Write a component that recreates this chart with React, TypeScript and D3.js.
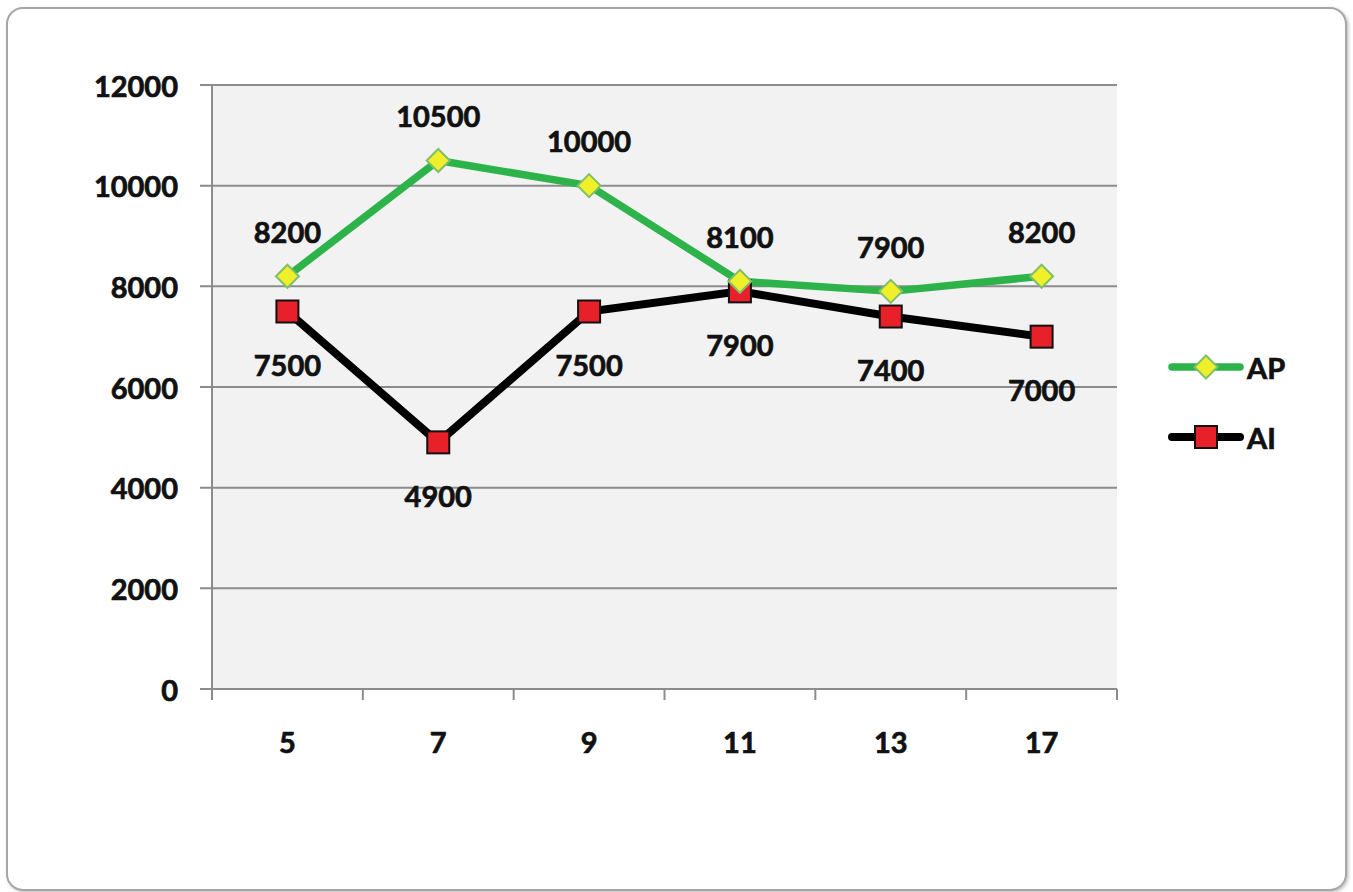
import React from "react";
import * as d3 from "d3";

const categories = ["5", "7", "9", "11", "13", "17"];
const apValues = [8200, 10500, 10000, 8100, 7900, 8200];
const aiValues = [7500, 4900, 7500, 7900, 7400, 7000];
const yTicks = [0, 2000, 4000, 6000, 8000, 10000, 12000];
const seriesNames = ["AP", "AI"];

const W = 1353;
const H = 892;
const plot = { left: 212, right: 1117, top: 85, bottom: 689 };
const FONT = "Lato, 'Open Sans', sans-serif";
const TXT = "#111111";

const textProps = {
  fontFamily: FONT,
  fontWeight: "bold" as const,
  fontSize: 29,
  fill: TXT,
  stroke: TXT,
  strokeWidth: 0.7,
  dominantBaseline: "central" as const,
};

export default function App() {
  const x = d3
    .scaleBand<string>()
    .domain(categories)
    .range([plot.left, plot.right])
    .paddingInner(0)
    .paddingOuter(0);
  const y = d3.scaleLinear().domain([0, 12000]).range([plot.bottom, plot.top]);
  const cx = (c: string) => (x(c) as number) + x.bandwidth() / 2;

  const line = d3
    .line<number>()
    .x((_, i) => cx(categories[i]))
    .y((d) => y(d));

  const diamond = (px: number, py: number, r: number) =>
    `M${px},${py - r}L${px + r},${py}L${px},${py + r}L${px - r},${py}Z`;

  const boundaries = categories.map((c) => x(c) as number).concat([plot.right]);

  return (
    <svg
      width={W}
      height={H}
      style={{ position: "absolute", left: 0, top: 0, display: "block" }}
    >
      <defs>
        <filter id="sh" x="-5%" y="-5%" width="110%" height="110%">
          <feDropShadow dx="1.5" dy="1.5" stdDeviation="1.5" floodColor="#000" floodOpacity="0.25" />
        </filter>
      </defs>
      <rect x={0} y={0} width={W} height={H} fill="#ffffff" />
      <rect
        x={7}
        y={8}
        width={1339}
        height={882}
        rx={16}
        ry={16}
        fill="#ffffff"
        stroke="#a6a6a6"
        strokeWidth={2}
        filter="url(#sh)"
      />
      <rect
        x={plot.left}
        y={plot.top}
        width={plot.right - plot.left}
        height={plot.bottom - plot.top}
        fill="#f2f2f2"
      />
      {yTicks.map((t) => (
        <g key={t}>
          <line
            x1={plot.left - 12}
            x2={plot.right}
            y1={y(t)}
            y2={y(t)}
            stroke="#8c8c8c"
            strokeWidth={2}
          />
          <text x={178} y={y(t)} textAnchor="end" {...textProps}>
            {t}
          </text>
        </g>
      ))}
      <line x1={plot.left} x2={plot.left} y1={plot.top} y2={plot.bottom} stroke="#8c8c8c" strokeWidth={2} />
      {boundaries.map((b, i) => (
        <line key={i} x1={b} x2={b} y1={plot.bottom} y2={plot.bottom + 11} stroke="#8c8c8c" strokeWidth={2} />
      ))}
      {categories.map((c) => (
        <text key={c} x={cx(c)} y={741} textAnchor="middle" {...textProps}>
          {c}
        </text>
      ))}
      <path d={line(aiValues) || ""} fill="none" stroke="#000" strokeWidth={8} strokeLinejoin="miter" />
      <path d={line(apValues) || ""} fill="none" stroke="#2db34a" strokeWidth={7.5} strokeLinejoin="round" />
      {aiValues.map((v, i) => (
        <rect
          key={"ai" + i}
          x={cx(categories[i]) - 11}
          y={y(v) - 11}
          width={22}
          height={22}
          fill="#e8202a"
          stroke="#111"
          strokeWidth={2}
        />
      ))}
      {apValues.map((v, i) => (
        <path
          key={"ap" + i}
          d={diamond(cx(categories[i]), y(v), 11.5)}
          fill="#f0f02a"
          stroke="#7fbf6a"
          strokeWidth={2}
        />
      ))}
      {apValues.map((v, i) => (
        <text key={"apl" + i} x={cx(categories[i])} y={y(v) - 45} textAnchor="middle" {...textProps}>
          {v}
        </text>
      ))}
      {aiValues.map((v, i) => (
        <text key={"ail" + i} x={cx(categories[i])} y={y(v) + 53} textAnchor="middle" {...textProps}>
          {v}
        </text>
      ))}
      {seriesNames.map((name, i) => {
        const ly = 367 + i * 70;
        const isAP = i === 0;
        return (
          <g key={name}>
            <line
              x1={1172}
              x2={1240}
              y1={ly}
              y2={ly}
              stroke={isAP ? "#2db34a" : "#000"}
              strokeWidth={isAP ? 7.5 : 8}
              strokeLinecap="round"
            />
            {isAP ? (
              <path d={diamond(1206, ly, 11.5)} fill="#f0f02a" stroke="#7fbf6a" strokeWidth={2} />
            ) : (
              <rect x={1195} y={ly - 11} width={22} height={22} fill="#e8202a" stroke="#111" strokeWidth={2} />
            )}
            <text x={1247} y={ly} {...textProps}>
              {name}
            </text>
          </g>
        );
      })}
    </svg>
  );
}
